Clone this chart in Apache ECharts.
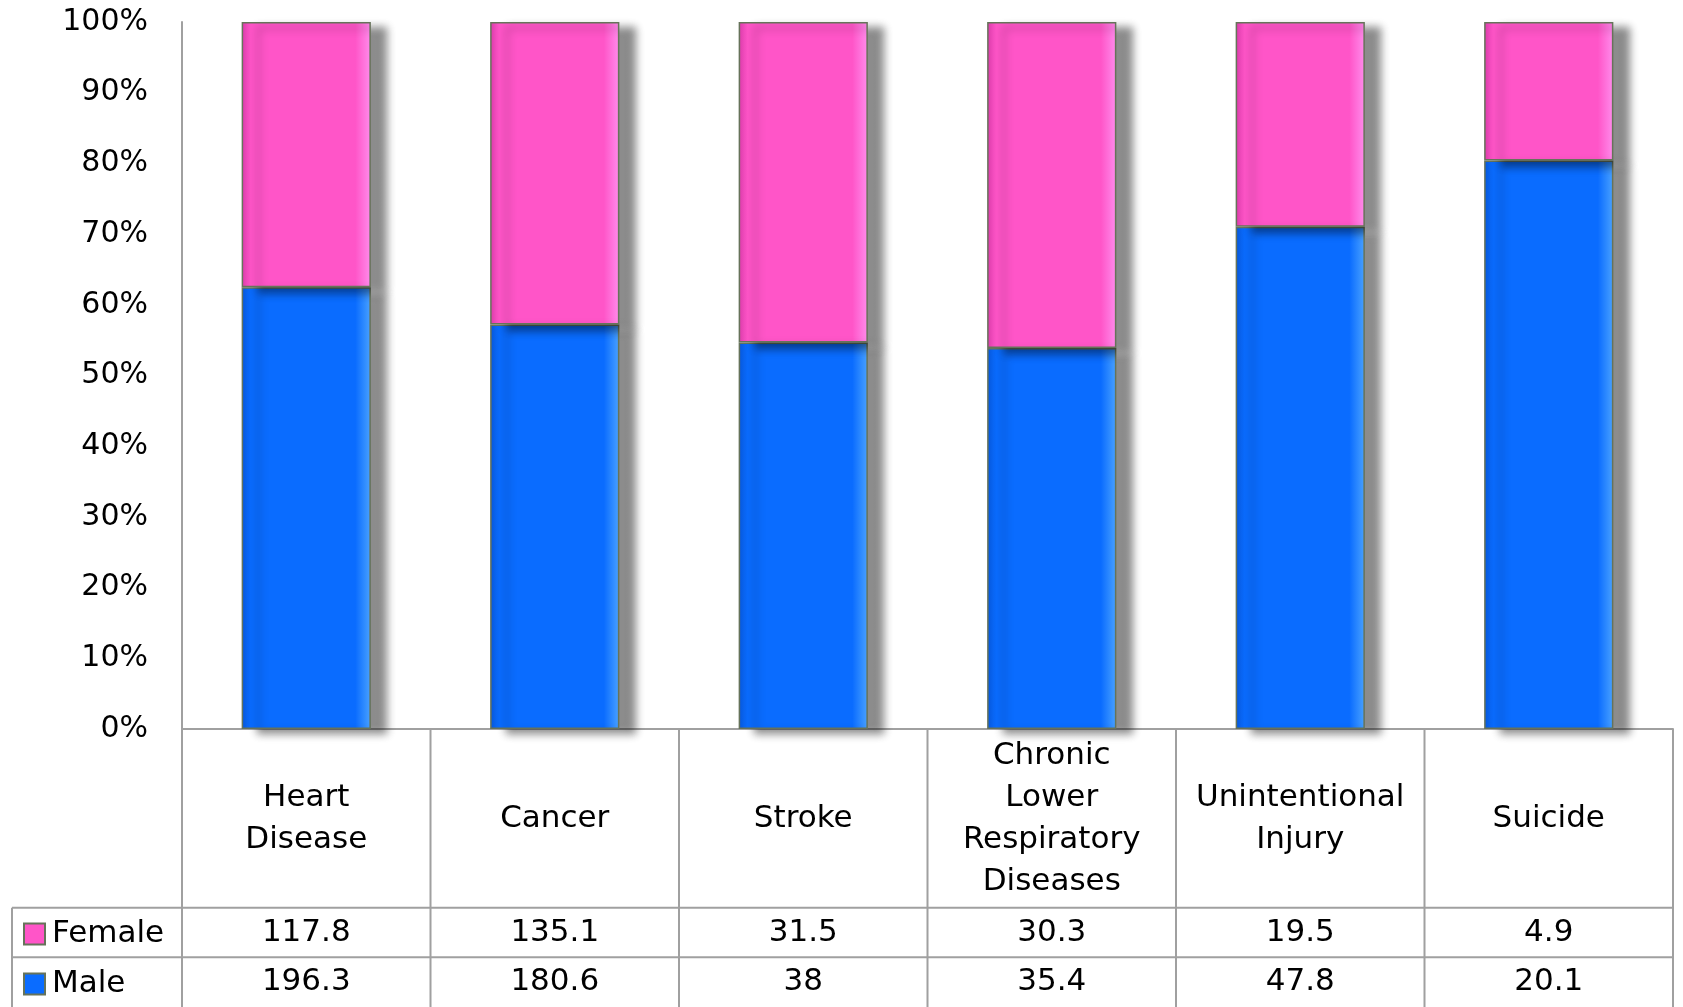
<!DOCTYPE html>
<html>
<head>
<meta charset="utf-8">
<script src="https://cdn.jsdelivr.net/npm/echarts@6/dist/echarts.min.js"></script>
<style>
html,body{margin:0;padding:0;background:#fff;}
#chart{width:1683px;height:1007px;}
</style>
</head>
<body>
<div id="chart"></div>
<script>
// ---- data ----
const categories = ['Heart\nDisease', 'Cancer', 'Stroke', 'Chronic\nLower\nRespiratory\nDiseases', 'Unintentional\nInjury', 'Suicide'];
const female = [117.8, 135.1, 31.5, 30.3, 19.5, 4.9];
const male = [196.3, 180.6, 38, 35.4, 47.8, 20.1];
const yTickLabels = ['0%', '10%', '20%', '30%', '40%', '50%', '60%', '70%', '80%', '90%', '100%'];

// 100% stacked shares built from the values
const malePct = male.map((m, i) => m / (m + female[i]) * 100);
const femalePct = female.map((f, i) => f / (male[i] + f) * 100);

const FONT = 'DejaVu Sans';
const GRID = '#a0a0a0';
const EDGE = '#66735a';

function grad(dark, main, light) {
  return new echarts.graphic.LinearGradient(0, 0, 1, 0, [
    {offset: 0, color: dark}, {offset: 0.07, color: main},
    {offset: 0.88, color: main}, {offset: 1, color: light}
  ]);
}
const shadow = {shadowColor: 'rgba(0,0,0,0.45)', shadowBlur: 8, shadowOffsetX: 16, shadowOffsetY: 5};

const chart = echarts.init(document.getElementById('chart'), null, {renderer: 'canvas'});
chart.setOption({
  animation: false,
  backgroundColor: '#fff',
  textStyle: {fontFamily: FONT},
  grid: [
    {left: 182, right: 10, top: 22, bottom: 278, containLabel: false},
    {left: 182, right: 10, top: 729, height: 280, containLabel: false}
  ],
  legend: {
    data: [
      {name: 'Female', itemStyle: {color: '#ff55c8', borderColor: EDGE, borderWidth: 2}},
      {name: 'Male', itemStyle: {color: '#0a6cff', borderColor: EDGE, borderWidth: 2}}
    ],
    orient: 'vertical', left: 23, top: 911, padding: 0, itemGap: 4,
    itemWidth: 21, itemHeight: 21, icon: 'rect',
    textStyle: {fontFamily: FONT, fontSize: 31, color: '#000', lineHeight: 46, padding: [0, 0, 0, 2]}
  },
  xAxis: [
    {
      type: 'category', gridIndex: 0, data: categories,
      axisLine: {show: true, lineStyle: {color: GRID, width: 2}},
      axisTick: {show: false},
      axisLabel: {interval: 0, margin: 90, verticalAlign: 'middle', fontFamily: FONT, fontSize: 31, lineHeight: 42, color: '#000', align: 'center'},
      splitLine: {show: false}
    },
    {type: 'category', gridIndex: 1, data: categories, show: false}
  ],
  yAxis: [
    {
      type: 'value', gridIndex: 0, min: 0, max: 100, interval: 10,
      axisLine: {show: true, lineStyle: {color: GRID, width: 2}},
      axisTick: {show: false},
      splitLine: {show: false},
      axisLabel: {margin: 34, fontFamily: FONT, fontSize: 30, color: '#000',
        formatter: v => yTickLabels[Math.round(v / 10)]}
    },
    {type: 'value', gridIndex: 1, min: 0, max: 280, inverse: true, show: false}
  ],
  series: [
    {
      name: 'Male', type: 'bar', stack: 'share', xAxisIndex: 0, yAxisIndex: 0,
      data: malePct, barWidth: '52%',
      itemStyle: Object.assign({color: grad('#0656d8', '#0a6cff', '#4aa2ff'), borderColor: EDGE, borderWidth: 1.5}, shadow)
    },
    {
      name: 'Female', type: 'bar', stack: 'share', xAxisIndex: 0, yAxisIndex: 0,
      data: femalePct, barWidth: '52%',
      itemStyle: Object.assign({color: grad('#d83aa8', '#ff55c8', '#ff8cec'), borderColor: EDGE, borderWidth: 1.5}, shadow)
    },
    {
      name: 'table', type: 'custom', xAxisIndex: 1, yAxisIndex: 1, silent: true,
      data: categories.map((c, i) => [i]),
      renderItem: function (params, api) {
        const i = api.value(0);
        const top = api.coord([i, 0]);
        const w = api.size([1, 0])[0];
        const cx = top[0];
        const x0 = cx - w / 2, x1 = cx + w / 2;
        const y = v => api.coord([i, v])[1];
        const ls = {stroke: GRID, lineWidth: 2};
        const kids = [
          {type: 'line', shape: {x1: x1, y1: y(0), x2: x1, y2: y(280)}, style: ls},
          {type: 'line', shape: {x1: x0, y1: y(180), x2: x1, y2: y(180)}, style: ls},
          {type: 'line', shape: {x1: x0, y1: y(230), x2: x1, y2: y(230)}, style: ls},
          {type: 'text', style: {text: String(female[i]), x: cx, y: y(205), textAlign: 'center', textVerticalAlign: 'middle', font: '31px "' + FONT + '"', fill: '#000'}},
          {type: 'text', style: {text: String(male[i]), x: cx, y: y(255), textAlign: 'center', textVerticalAlign: 'middle', font: '31px "' + FONT + '"', fill: '#000'}}
        ];
        if (i === 0) {
          const lx = x0 - 170;
          kids.push(
            {type: 'line', shape: {x1: x0, y1: y(0), x2: x0, y2: y(280)}, style: ls},
            {type: 'line', shape: {x1: lx, y1: y(180), x2: x0, y2: y(180)}, style: ls},
            {type: 'line', shape: {x1: lx, y1: y(230), x2: x0, y2: y(230)}, style: ls},
            {type: 'line', shape: {x1: lx, y1: y(180), x2: lx, y2: y(280)}, style: ls}
          );
        }
        return {type: 'group', children: kids};
      }
    }
  ]
});
</script>
</body>
</html>
